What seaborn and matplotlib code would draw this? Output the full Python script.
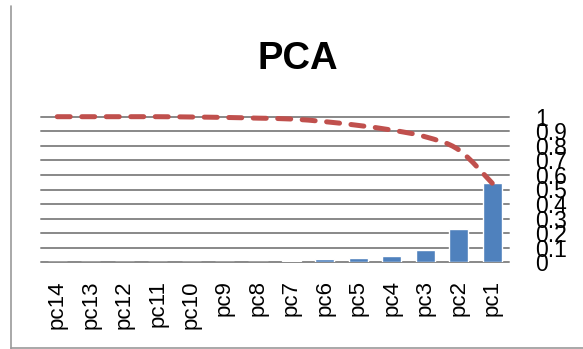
import matplotlib
matplotlib.use("Agg")
import matplotlib.pyplot as plt
from matplotlib.lines import Line2D
from matplotlib.path import Path
from matplotlib.patches import PathPatch
import numpy as np
import pandas as pd
import seaborn as sns

# Principal components, listed left to right as drawn
components = ["pc14", "pc13", "pc12", "pc11", "pc10", "pc9", "pc8",
              "pc7", "pc6", "pc5", "pc4", "pc3", "pc2", "pc1"]
# Share of variance explained by each component
explained = [0.0, 0.0, 0.0, 0.0, 0.0005, 0.001, 0.003,
             0.01, 0.02, 0.032, 0.042, 0.087, 0.229, 0.543]
# Cumulative share of variance
cumulative = [1.0, 1.0, 1.0, 1.0, 0.998, 0.995, 0.99,
              0.984, 0.966, 0.94, 0.908, 0.862, 0.772, 0.543]
y_ticks = [0, 0.1, 0.2, 0.3, 0.4, 0.5, 0.6, 0.7, 0.8, 0.9, 1]
y_tick_labels = ["0", "0.1", "0.2", "0.3", "0.4", "0.5", "0.6",
                 "0.7", "0.8", "0.9", "1"]
title = "PCA"

sns.set_theme(style="white")
plt.rcParams["font.family"] = ["Liberation Sans", "DejaVu Sans"]

W, H, DPI = 583, 349, 100
fig = plt.figure(figsize=(W / DPI, H / DPI), dpi=DPI)
fig.patch.set_facecolor("white")

# axes placed in pixel terms
left_px, right_px, top_px, bottom_px = 40.5, 509, 116.7, 262.3
ax = fig.add_axes([left_px / W, 1 - bottom_px / H,
                   (right_px - left_px) / W, (bottom_px - top_px) / H])

bars = pd.DataFrame({"component": components, "explained": explained})
sns.barplot(data=bars, x="component", y="explained", order=components,
            color="#4F81BD", saturation=1, width=0.57, ax=ax, zorder=3)


def smooth_path(xs, ys):
    """Cubic Bezier path through the points (Catmull-Rom style tangents)."""
    pts = np.column_stack([xs, ys]).astype(float)
    n = len(pts)
    verts = [pts[0]]
    codes = [Path.MOVETO]
    for i in range(n - 1):
        p0 = pts[i - 1] if i > 0 else pts[i]
        p1, p2 = pts[i], pts[i + 1]
        p3 = pts[i + 2] if i + 2 < n else pts[i + 1]
        c1 = p1 + (p2 - p0) / 6.0
        c2 = p2 - (p3 - p1) / 6.0
        verts += [c1, c2, p2]
        codes += [Path.CURVE4] * 3
    return Path(verts, codes)


positions = np.arange(len(components))
curve = PathPatch(smooth_path(positions, cumulative), fill=False,
                  edgecolor="#C0504D", linewidth=3.6,
                  linestyle=(0, (2.6, 2.3)), capstyle="round",
                  zorder=4, clip_on=False)
ax.add_patch(curve)

ax.set_xlim(-0.5, len(components) - 0.5)
ax.set_ylim(0, 1)
ax.set_yticks(y_ticks)
ax.set_yticklabels(y_tick_labels)
ax.yaxis.tick_right()
ax.set_xlabel("")
ax.set_ylabel("")

ax.tick_params(axis="y", length=0, pad=19, labelsize=16.5, labelcolor="black")
ax.tick_params(axis="x", length=0, pad=13, labelsize=16, labelcolor="black",
               labelrotation=90)

ax.grid(axis="y", color="#888888", linewidth=1.4, zorder=1)
ax.grid(axis="x", visible=False)
ax.set_axisbelow(True)
for g in ax.get_ygridlines():
    g.set_clip_on(False)
for s in ax.spines.values():
    s.set_visible(False)
ax.set_facecolor("none")

fig.text(298 / W, 1 - 69.3 / H, title, ha="center", va="baseline",
         fontsize=27.5, fontweight="bold", color="black")

# frame edges of the chart area
fig.add_artist(Line2D([10.5 / W, 10.5 / W], [0, 1 - 6 / H],
                      transform=fig.transFigure, color="#9a9a9a", linewidth=1.2))
fig.add_artist(Line2D([10.5 / W, 1], [1 - 347.5 / H, 1 - 347.5 / H],
                      transform=fig.transFigure, color="#9a9a9a", linewidth=1.2))

fig.savefig("out.png", dpi=DPI, facecolor="white")
